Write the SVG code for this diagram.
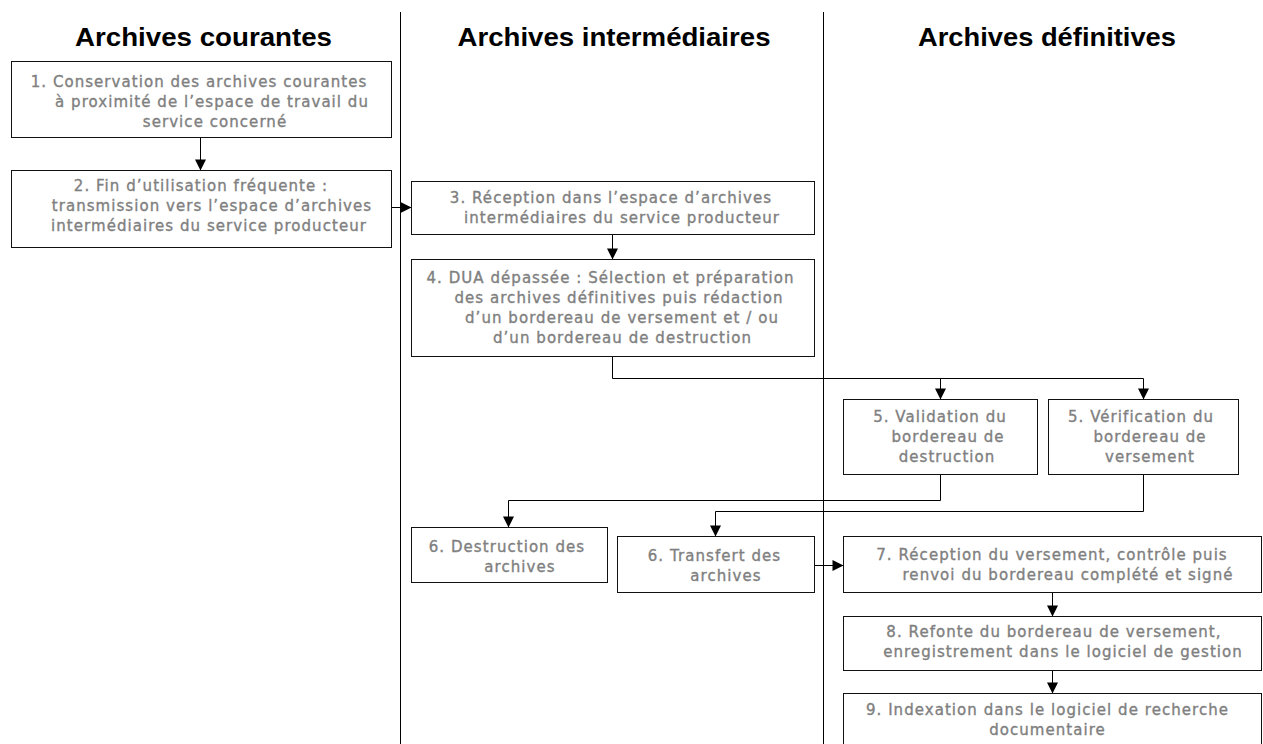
<svg xmlns="http://www.w3.org/2000/svg" width="1263" height="744" viewBox="0 0 1263 744">
<style>
.hd{font-family:"Liberation Sans",Arial,sans-serif;font-weight:bold;font-size:25px;fill:#000;text-anchor:middle}
.bx{fill:#fff;stroke:#111;stroke-width:1}
.t{font-family:"DejaVu Sans",Verdana,sans-serif;font-size:15px;letter-spacing:1.05px;fill:#808080;stroke:#808080;stroke-width:0.35px;text-anchor:middle}
.sep{stroke:#000;stroke-width:1}
.cn{fill:none;stroke:#000;stroke-width:1}
.ar{marker-end:url(#ah)}
</style>
<defs>
<marker id="ah" markerUnits="userSpaceOnUse" markerWidth="12" markerHeight="11" refX="11" refY="5.5" orient="auto" viewBox="0 0 11 11">
<path d="M0,0 L11,5.5 L0,11 Z" fill="#000"/>
</marker>
</defs>
<rect width="1263" height="744" fill="#fff"/>
<g id="separators">
<line class="sep" x1="400.5" y1="12" x2="400.5" y2="744"/>
<line class="sep" x1="823.5" y1="12" x2="823.5" y2="744"/>
</g>
<g id="headers">
<text class="hd" x="203.5" y="46" textLength="257" lengthAdjust="spacingAndGlyphs">Archives courantes</text>
<text class="hd" x="614" y="46" textLength="313" lengthAdjust="spacingAndGlyphs">Archives intermédiaires</text>
<text class="hd" x="1047" y="46" textLength="258" lengthAdjust="spacingAndGlyphs">Archives définitives</text>
</g>
<g id="connectors">
<path class="cn ar" d="M200.5,137.5 V170.5"/>
<path class="cn ar" d="M391.5,207.5 H411.5"/>
<path class="cn ar" d="M612.5,234.5 V259.5"/>
<path class="cn ar" d="M612.5,356.5 V378.5 H1143.5 V399.5"/>
<path class="cn ar" d="M940.5,378.5 V399.5"/>
<path class="cn ar" d="M940.5,474.5 V500.5 H508.5 V527.5"/>
<path class="cn ar" d="M1143.5,474.5 V511.5 H715.5 V536.5"/>
<path class="cn ar" d="M814.5,565.5 H843.5"/>
<path class="cn ar" d="M1052.5,592.5 V616.5"/>
<path class="cn ar" d="M1052.5,670.5 V693.5"/>
</g>
<g id="n1">
<rect class="bx" x="11.5" y="61.5" width="380" height="76"/>
<text class="t" x="199" y="87">1. Conservation des archives courantes</text>
<text class="t" x="212" y="107">à proximité de l’espace de travail du</text>
<text class="t" x="215" y="127">service concerné</text>
</g>
<g id="n2">
<rect class="bx" x="11.5" y="170.5" width="380" height="77"/>
<text class="t" x="201" y="191">2. Fin d’utilisation fréquente :</text>
<text class="t" x="212" y="211">transmission vers l’espace d’archives</text>
<text class="t" x="209" y="231">intermédiaires du service producteur</text>
</g>
<g id="n3">
<rect class="bx" x="411.5" y="181.5" width="403" height="53"/>
<text class="t" x="611" y="203">3. Réception dans l’espace d’archives</text>
<text class="t" x="622" y="223">intermédiaires du service producteur</text>
</g>
<g id="n4">
<rect class="bx" x="411.5" y="259.5" width="403" height="97"/>
<text class="t" x="610.5" y="283">4. DUA dépassée : Sélection et préparation</text>
<text class="t" x="619" y="303">des archives définitives puis rédaction</text>
<text class="t" x="622" y="323">d’un bordereau de versement et / ou</text>
<text class="t" x="622.5" y="343">d’un bordereau de destruction</text>
</g>
<g id="n5a">
<rect class="bx" x="843.5" y="399.5" width="194" height="75"/>
<text class="t" x="940" y="422">5. Validation du</text>
<text class="t" x="948" y="442">bordereau de</text>
<text class="t" x="947" y="462">destruction</text>
</g>
<g id="n5b">
<rect class="bx" x="1048.5" y="399.5" width="190" height="75"/>
<text class="t" x="1141" y="422">5. Vérification du</text>
<text class="t" x="1150" y="442">bordereau de</text>
<text class="t" x="1150" y="462">versement</text>
</g>
<g id="n6a">
<rect class="bx" x="411.5" y="527.5" width="196" height="55"/>
<text class="t" x="507" y="552">6. Destruction des</text>
<text class="t" x="520" y="572">archives</text>
</g>
<g id="n6b">
<rect class="bx" x="617.5" y="536.5" width="197" height="56"/>
<text class="t" x="714.5" y="561">6. Transfert des</text>
<text class="t" x="726" y="581">archives</text>
</g>
<g id="n7">
<rect class="bx" x="843.5" y="536.5" width="418" height="56"/>
<text class="t" x="1052" y="560">7. Réception du versement, contrôle puis</text>
<text class="t" x="1068" y="580">renvoi du bordereau complété et signé</text>
</g>
<g id="n8">
<rect class="bx" x="843.5" y="616.5" width="418" height="54"/>
<text class="t" x="1054" y="637">8. Refonte du bordereau de versement,</text>
<text class="t" x="1063" y="657">enregistrement dans le logiciel de gestion</text>
</g>
<g id="n9">
<rect class="bx" x="843.5" y="693.5" width="418" height="60"/>
<text class="t" x="1047.5" y="715">9. Indexation dans le logiciel de recherche</text>
<text class="t" x="1047.5" y="735">documentaire</text>
</g>
</svg>
